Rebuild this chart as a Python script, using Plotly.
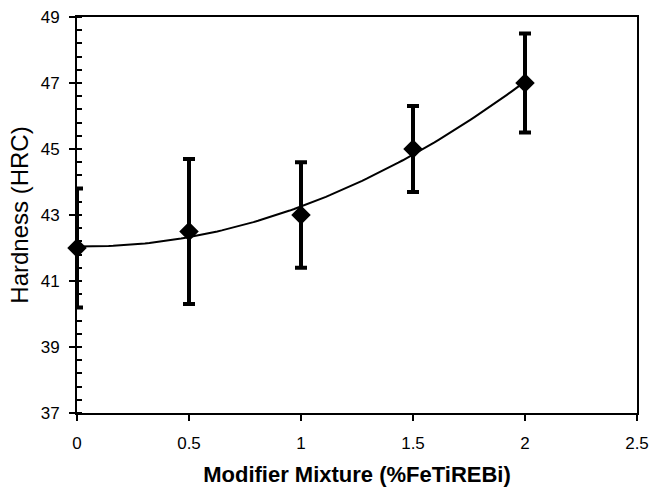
import numpy as np
import plotly.graph_objects as go

# Data
modifier = [0, 0.5, 1, 1.5, 2]
hardness = [42.0, 42.5, 43.0, 45.0, 47.0]
err = [1.8, 2.2, 1.6, 1.3, 1.5]
x_ticks = [0, 0.5, 1, 1.5, 2, 2.5]
y_ticks = [37, 39, 41, 43, 45, 47, 49]

# Second-order polynomial trendline fitted to the data
coef = np.polyfit(modifier, hardness, 2)
xf = np.linspace(min(modifier), max(modifier), 100)
yf = np.polyval(coef, xf)

fig = go.Figure()
fig.add_trace(go.Scatter(x=xf, y=yf, mode="lines",
                         line=dict(color="black", width=2), hoverinfo="skip"))
fig.add_trace(go.Scatter(
    x=modifier, y=hardness, mode="markers",
    marker=dict(symbol="diamond", size=15, color="black"),
    error_y=dict(type="data", array=err, visible=True, color="black",
                 thickness=4, width=6),
    cliponaxis=False,
))

fig.update_layout(
    width=651, height=489,
    margin=dict(l=77, r=14, t=17, b=76),
    paper_bgcolor="white", plot_bgcolor="white",
    showlegend=False,
    font=dict(family="Liberation Sans, Arial, sans-serif", color="black"),
)
fig.update_xaxes(
    range=[0, 2.5], tickvals=x_ticks, ticktext=[str(v) for v in x_ticks],
    ticks="outside", ticklen=6, tickwidth=2, tickcolor="black",
    ticklabelstandoff=8,
    showline=True, linecolor="black", linewidth=2, mirror=True,
    showgrid=False, zeroline=False, automargin=False,
    tickfont=dict(size=17),
    title=dict(text="<b>Modifier Mixture (%FeTiREBi)</b>", font=dict(size=22), standoff=14),
)
fig.update_yaxes(
    range=[37, 49], tickvals=y_ticks, ticktext=[str(v) for v in y_ticks],
    ticks="outside", ticklen=6, tickwidth=2, tickcolor="black",
    ticklabelstandoff=6,
    minor=dict(dtick=0.4, tick0=37, ticks="inside", ticklen=5, tickwidth=1.5, tickcolor="black"),
    showline=True, linecolor="black", linewidth=2, mirror=True,
    showgrid=False, zeroline=False, automargin=False,
    tickfont=dict(size=17),
    title=dict(text="Hardness (HRC)", font=dict(size=24), standoff=5),
)

fig.write_html("out.html", config={"displayModeBar": False},
               post_script="document.body.style.margin='0';")
